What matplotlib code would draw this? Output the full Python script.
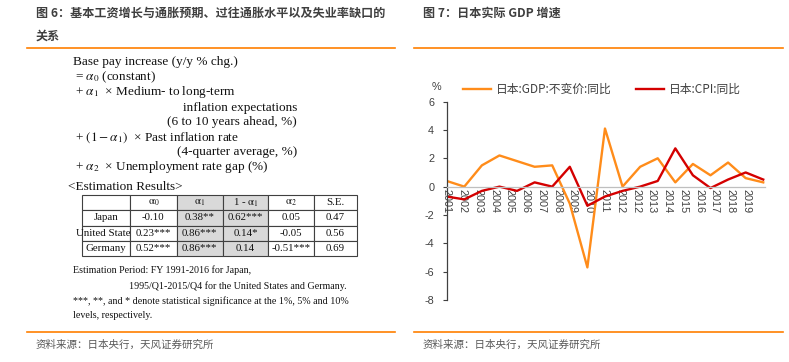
#!/usr/bin/env python3
"""Two-panel report figure: wage regression summary (left) and
Japan real GDP / CPI growth (right). Writes out.png."""

import matplotlib.pyplot as plt
import numpy as np
from matplotlib.lines import Line2D

plt.rcParams['font.family'] = ['Noto Sans CJK SC', 'DejaVu Sans']
plt.rcParams['mathtext.fontset'] = 'stix'

# ---- data -------------------------------------------------------------
years = list(range(2001, 2020))
gdp_yoy = [0.4, 0.0, 1.5, 2.2, 1.8, 1.4, 1.5, -1.2, -5.7, 4.1,
           0.0, 1.4, 2.0, 0.3, 1.6, 0.8, 1.7, 0.6, 0.3]
cpi_yoy = [-0.7, -0.9, -0.3, 0.0, -0.3, 0.3, 0.0, 1.4, -1.35, -0.7,
           -0.3, 0.0, 0.4, 2.7, 0.8, -0.1, 0.5, 1.0, 0.5]
x_tick_labels = ['2001', '2002', '2003', '2004', '2005', '2006', '2007',
                 '2008', '2009', '2010', '2011', '2012', '2012', '2013',
                 '2014', '2015', '2016', '2017', '2018', '2019']
y_ticks = [-8, -6, -4, -2, 0, 2, 4, 6]
series_names = ['日本:GDP:不变价:同比', '日本:CPI:同比']

table_cols = ['', r'$\mathrm{\alpha}_0$', r'$\mathrm{\alpha}_1$',
              r'1 - $\mathrm{\alpha}_1$', r'$\mathrm{\alpha}_2$', 'S.E.']
table_rows = ['Japan', 'United States', 'Germany']
table_vals = [['-0.10', '0.38**', '0.62***', '0.05', '0.47'],
              ['0.23***', '0.86***', '0.14*', '-0.05', '0.56'],
              ['0.52***', '0.86***', '0.14', '-0.51***', '0.69']]

title_left = '图 6：基本工资增长与通胀预期、过往通胀水平以及失业率缺口的'
title_left2 = '关系'
title_right = '图 7：日本实际 GDP 增速'
source = '资料来源：日本央行，天风证券研究所'

ORANGE = '#FF8C1A'
RED = '#D40000'
RULE = '#FF7F00'
SERIF = 'Liberation Serif'

W, H = 789, 362


def fx(px):
    return px / W


def fy(py):
    return 1 - py / H


fig = plt.figure(figsize=(W / 100, H / 100), dpi=100)

# ---- headers, rules, sources ----------------------------------------
for x0, x1 in [(27, 395), (414, 783)]:
    for yy in (48.3, 332):
        fig.add_artist(Line2D([fx(x0), fx(x1)], [fy(yy), fy(yy)],
                              color=RULE, lw=1.2))

title_kw = dict(fontsize=8.7, fontweight='bold', color='#3F3F3F',
                va='center', ha='left')
fig.text(fx(36), fy(13.5), title_left, **title_kw)
fig.text(fx(36), fy(36.5), title_left2, **title_kw)
fig.text(fx(422.7), fy(13.5), title_right, **title_kw)

src_kw = dict(fontsize=7.55, color='#595959', va='center', ha='left')
fig.text(fx(36), fy(344.5), source, **src_kw)
fig.text(fx(422.7), fy(344.5), source, **src_kw)

# ---- left panel: equation ----------------------------------------
eq_kw = dict(fontsize=9.5, family=SERIF, color='#111111', va='center')
fig.text(fx(73.3), fy(62.5), 'Base pay increase (y/y % chg.)', **eq_kw)
fig.text(fx(75), fy(77.5), r'= $\alpha_0$ (constant)', **eq_kw)
fig.text(fx(75), fy(92.5), r'+ $\alpha_1$  × Medium- to long-term', **eq_kw)
fig.text(fx(297), fy(107.5), 'inflation expectations', ha='right', **eq_kw)
fig.text(fx(297), fy(122.5), '(6 to 10 years ahead, %)', ha='right', **eq_kw)
fig.text(fx(75), fy(137.5), r'+ $(1-\alpha_1)$  × Past inflation rate', **eq_kw)
fig.text(fx(297), fy(152.5), '(4-quarter average, %)', ha='right', **eq_kw)
fig.text(fx(75), fy(167), r'+ $\alpha_2$  × Unemployment rate gap (%)', **eq_kw)
fig.text(fx(68), fy(187), '<Estimation Results>', **eq_kw)

# ---- left panel: table ---------------------------------------------
tab_ax = fig.add_axes([fx(81.7), fy(256), fx(356.7) - fx(81.7),
                       fy(195) - fy(256)])
tab_ax.axis('off')
cell_text = [table_cols] + [[r] + v for r, v in zip(table_rows, table_vals)]
col_w = [48.3, 46.7, 46, 45.6, 46, 42.4]
colours = [['white', 'white', '#D9D9D9', '#D9D9D9', 'white', 'white']
           for _ in cell_text]
tbl = tab_ax.table(cellText=cell_text, cellColours=colours, cellLoc='center',
                   colWidths=[w / sum(col_w) for w in col_w], bbox=[0, 0, 1, 1])
tbl.auto_set_font_size(False)
for (r, c), cell in tbl.get_celld().items():
    cell.set_edgecolor('#404040')
    cell.set_linewidth(0.8)
    cell.get_text().set_fontsize(7.8)
    cell.get_text().set_family(SERIF)
    cell.get_text().set_color('#111111')

note_kw = dict(fontsize=7.2, family=SERIF, color='#111111', va='center')
fig.text(fx(73), fy(270.5), 'Estimation Period: FY 1991-2016 for Japan,', **note_kw)
fig.text(fx(129), fy(286),
         '1995/Q1-2015/Q4 for the United States and Germany.', **note_kw)
fig.text(fx(73), fy(301.5),
         '***, **, and * denote statistical significance at the 1%, 5% and 10%',
         **note_kw)
fig.text(fx(73), fy(316), 'levels, respectively.', **note_kw)

# ---- right panel: line chart ----------------------------------------
ax = fig.add_axes([fx(446.7), fy(300), fx(765) - fx(446.7),
                   fy(101.6) - fy(300)])
x = np.arange(len(years))
ax.plot(x, gdp_yoy, color=ORANGE, lw=1.7, label=series_names[0])
ax.plot(x, cpi_yoy, color=RED, lw=1.7, label=series_names[1])

for side in ('top', 'right'):
    ax.spines[side].set_visible(False)
# moving the spine resets the ticks, so do it before styling them
ax.spines['bottom'].set_position(('data', 0))
ax.spines['bottom'].set_color('#BFBFBF')
ax.spines['bottom'].set_linewidth(0.9)
ax.spines['left'].set_color('#404040')
ax.spines['left'].set_linewidth(0.9)

ax.set_xlim(0, 18.1)
ax.set_ylim(-8, 6)
ax.set_yticks(y_ticks)
ax.set_yticklabels([str(v) for v in y_ticks], family='Liberation Sans')

# category labels sit on an Excel-style date axis, slightly tighter than data
tick_pos = np.linspace(0, 17.05, len(x_tick_labels))
ax.set_xticks(tick_pos)
ax.set_xticklabels(x_tick_labels, rotation=-90, family='Liberation Sans')

ax.tick_params(axis='y', length=3, width=0.8, pad=6, labelsize=7.8,
               color='#404040', labelcolor='#404040')
ax.tick_params(axis='x', length=0, pad=1.5, labelsize=7.8,
               labelcolor='#404040')
ax.patch.set_visible(False)

fig.text(fx(436), fy(87), '%', ha='center', va='center', fontsize=7.8,
         color='#404040', family='Liberation Sans')
fig.legend(loc='center left', bbox_to_anchor=(fx(463), fy(89.5)), ncol=2,
           frameon=False, fontsize=8.5, borderpad=0, borderaxespad=0,
           handlelength=2.4, handletextpad=0.35, columnspacing=2.1,
           labelcolor='#404040')

fig.savefig('out.png', dpi=100)
